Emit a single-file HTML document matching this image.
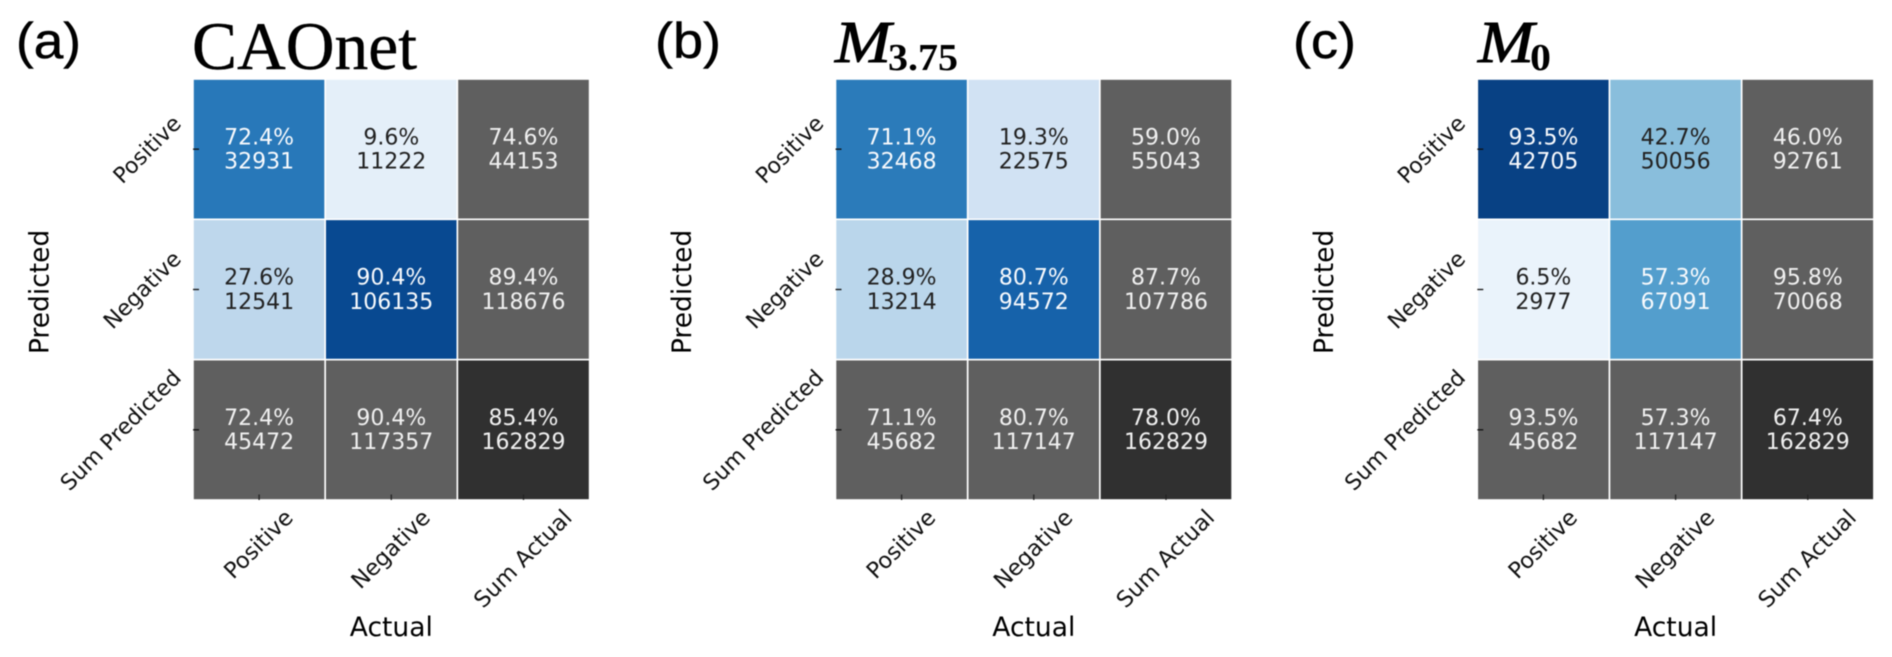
<!DOCTYPE html>
<html lang="en">
<head>
<meta charset="utf-8">
<title>Confusion matrices</title>
<style>
html,body{margin:0;padding:0;background:#fff;width:1892px;height:657px;overflow:hidden}
svg{display:block;filter:blur(0.4px)}
text{font-family:"DejaVu Sans","Liberation Sans",sans-serif}
.panel-tag{font-family:"Liberation Sans",sans-serif;font-size:50px;fill:#000;stroke:#000;stroke-width:0.5px}
.ttl{font-family:"Liberation Serif",serif;fill:#000}
</style>
</head>
<body>
<svg id="fig" xmlns="http://www.w3.org/2000/svg" width="1892" height="657" viewBox="0 0 1892 657">
  <rect x="0" y="0" width="1892" height="657" fill="#fff"/>
  <text class="panel-tag" x="16" y="58" textLength="65" lengthAdjust="spacingAndGlyphs">(a)</text>
  <text class="panel-tag" x="655" y="58" textLength="66" lengthAdjust="spacingAndGlyphs">(b)</text>
  <text class="panel-tag" x="1293" y="58" textLength="63" lengthAdjust="spacingAndGlyphs">(c)</text>
  <text class="ttl" x="192" y="69" font-size="68" stroke="#000" stroke-width="0.4" textLength="225" lengthAdjust="spacingAndGlyphs">CAOnet</text>
  <text class="ttl" x="835" y="62" font-size="59" font-style="italic" stroke="#000" stroke-width="0.9" textLength="56" lengthAdjust="spacingAndGlyphs">M</text>
  <text class="ttl" x="888" y="70" font-size="38" font-weight="bold" textLength="70" lengthAdjust="spacingAndGlyphs">3.75</text>
  <text class="ttl" x="1478" y="62" font-size="59" font-style="italic" stroke="#000" stroke-width="0.9" textLength="56" lengthAdjust="spacingAndGlyphs">M</text>
  <text class="ttl" x="1530" y="70" font-size="38" font-weight="bold" textLength="21" lengthAdjust="spacingAndGlyphs">0</text>
</svg>
<script>
const rowLabels = ['Positive', 'Negative', 'Sum Predicted'];
const colLabels = ['Positive', 'Negative', 'Sum Actual'];
const xAxisTitle = 'Actual';
const yAxisTitle = 'Predicted';
const panelNames = ['a', 'b', 'c'];

const percentA = [[72.4, 9.6, 74.6], [27.6, 90.4, 89.4], [72.4, 90.4, 85.4]];
const countA = [[32931, 11222, 44153], [12541, 106135, 118676], [45472, 117357, 162829]];
const percentB = [[71.1, 19.3, 59.0], [28.9, 80.7, 87.7], [71.1, 80.7, 78.0]];
const countB = [[32468, 22575, 55043], [13214, 94572, 107786], [45682, 117147, 162829]];
const percentC = [[93.5, 42.7, 46.0], [6.5, 57.3, 95.8], [93.5, 57.3, 67.4]];
const countC = [[42705, 50056, 92761], [2977, 67091, 70068], [45682, 117147, 162829]];

const allPercents = [percentA, percentB, percentC];
const allCounts = [countA, countB, countC];

const NS = 'http://www.w3.org/2000/svg';
const fig = document.getElementById('fig');
const panelLeft = [193, 835.5, 1477.3];
const panelWidth = 396.6;
const panelTop = 79;
const panelHeight = 421;
const blues = ['#f7fbff', '#deebf7', '#c6dbef', '#9ecae1', '#6baed6', '#4292c6', '#2171b5', '#08519c', '#08306b'];

function hexToRgb(h) {
  return [parseInt(h.slice(1, 3), 16), parseInt(h.slice(3, 5), 16), parseInt(h.slice(5, 7), 16)];
}
function bluesColor(pct) {
  const t = Math.max(0, Math.min(1, pct / 100)) * (blues.length - 1);
  const i = Math.min(blues.length - 2, Math.floor(t));
  const f = t - i;
  const a = hexToRgb(blues[i]);
  const b = hexToRgb(blues[i + 1]);
  return 'rgb(' + a.map((v, k) => Math.round(v + (b[k] - v) * f)).join(',') + ')';
}
function xBand(p, n) {
  return panelLeft[p] + n * panelWidth / colLabels.length;
}
function yBand(n) {
  return panelTop + n * panelHeight / rowLabels.length;
}
function make(tag, attrs, parent) {
  const el = document.createElementNS(NS, tag);
  for (const k in attrs) el.setAttribute(k, attrs[k]);
  parent.appendChild(el);
  return el;
}

allPercents.forEach(function (percents, p) {
  const counts = allCounts[p];
  const g = make('g', {}, fig);
  
  

  percents.forEach(function (row, r) {
    row.forEach(function (pct, c) {
      const isTotal = r === 2 && c === 2;
      const isSum = r === 2 || c === 2;
      const fill = isTotal ? '#303030' : (isSum ? '#5f5f5f' : bluesColor(pct));
      const x = xBand(p, c);
      const y = yBand(r);
      const w = xBand(p, c + 1) - x;
      const h = yBand(r + 1) - y;
      const cell = make('rect', { x: x, y: y, width: w, height: h, fill: fill, stroke: '#fff', 'stroke-width': 1.6 }, g);
      
      

      const tc = isSum ? '#f0f0f0' : (pct >= 50 ? '#f8fafd' : '#222222');
      const cx = x + w / 2;
      const cy = y + h / 2;
      const t1 = make('text', { x: cx, y: cy - 4.9, 'text-anchor': 'middle', 'font-size': 22, fill: tc }, g);
      t1.textContent = pct.toFixed(1) + '%';
      
      
      const t2 = make('text', { x: cx, y: cy + 19.4, 'text-anchor': 'middle', 'font-size': 22, fill: tc }, g);
      t2.textContent = String(counts[r][c]);
      
      
    });
  });

  const left = panelLeft[p];
  const bottom = panelTop + panelHeight;
  const capShift = 8;
  const h = 16.3;

  rowLabels.forEach(function (label, r) {
    const ty = (yBand(r) + yBand(r + 1)) / 2;
    const tick = make('line', { x1: left, x2: left + 6, y1: ty, y2: ty, stroke: '#111', 'stroke-width': 1.3 }, g);
    
    
    const t = make('text', { 'text-anchor': 'middle', 'font-size': 22, fill: '#111' }, g);
    t.textContent = label;
    
    
    const L = t.getComputedTextLength();
    const cx = left - 10.5 - (L + h) * Math.SQRT1_2 / 2;
    t.setAttribute('x', cx);
    t.setAttribute('y', ty + capShift);
    t.setAttribute('transform', 'rotate(-45 ' + cx + ' ' + ty + ')');
  });

  colLabels.forEach(function (label, c) {
    const tx = (xBand(p, c) + xBand(p, c + 1)) / 2;
    const tick = make('line', { x1: tx, x2: tx, y1: bottom, y2: bottom - 5.5, stroke: '#222', 'stroke-width': 1.3 }, g);
    
    
    const t = make('text', { 'text-anchor': 'middle', 'font-size': 22.4, fill: '#111' }, g);
    t.textContent = label;
    
    
    const L = t.getComputedTextLength();
    const cy = bottom + 7.5 + (L + h) * Math.SQRT1_2 / 2;
    t.setAttribute('x', tx - 1);
    t.setAttribute('y', cy + 8.1);
    t.setAttribute('transform', 'rotate(-45 ' + (tx - 1) + ' ' + cy + ')');
  });

  const xt = make('text', { x: left + panelWidth / 2, y: 636, 'text-anchor': 'middle', 'font-size': 26.5, fill: '#000' }, g);
  xt.textContent = xAxisTitle;
  
  

  const yx = left - 144.5;
  const yy = panelTop + panelHeight / 2 + 2.4;
  const yt = make('text', { x: yx, y: yy, 'text-anchor': 'middle', 'font-size': 26.5, fill: '#000', transform: 'rotate(-90 ' + yx + ' ' + yy + ')' }, g);
  yt.textContent = yAxisTitle;
  
  
});
</script>
</body>
</html>
